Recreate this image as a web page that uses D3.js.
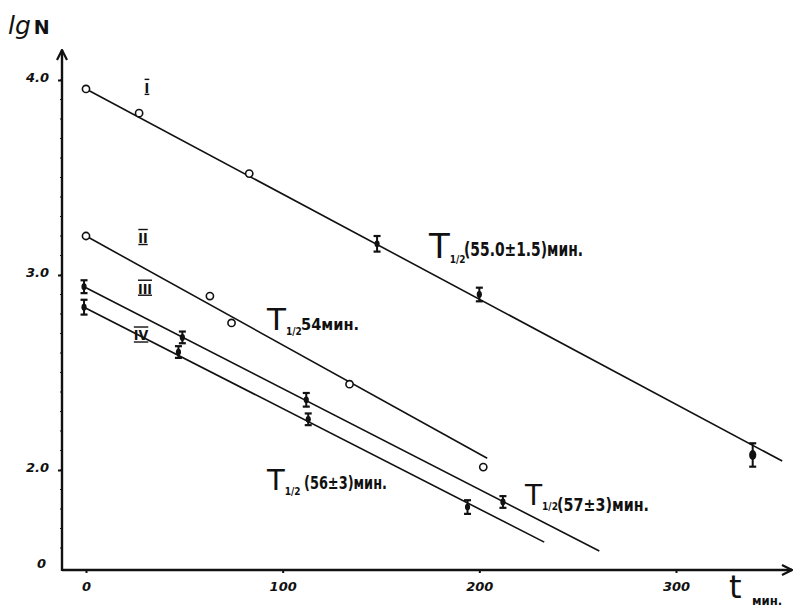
<!DOCTYPE html>
<html>
<head>
<meta charset="utf-8">
<script src="https://cdn.jsdelivr.net/npm/d3@7"></script>
<style>
  body { margin: 0; background: #fff; }
  text { fill: #111; }
</style>
</head>
<body>
<div id="chart"></div>
<script>
// Values (t in minutes, lgN)
const tI = [0, 27, 83, 148, 200, 339];
const lgI = [3.954, 3.83, 3.52, 3.16, 2.90, 2.077];
const errI = [0, 0, 0, 0.04, 0.035, 0.06];

const tII = [0, 63, 74, 134, 202];
const lgII = [3.20, 2.892, 2.754, 2.44, 2.015];
const errII = [0, 0, 0, 0, 0];

const tIII = [-1, 49, 112, 212];
const lgIII = [2.94, 2.68, 2.36, 1.836];
const errIII = [0.033, 0.03, 0.035, 0.03];

const tIV = [-1, 47, 113, 194];
const lgIV = [2.835, 2.605, 2.26, 1.81];
const errIV = [0.038, 0.03, 0.03, 0.035];

// fitted decay lines: [t, lgN] end points
const fitI = [[0, 3.954], [354, 2.046]];
const fitII = [[0, 3.20], [204, 2.06]];
const fitIII = [[-1, 2.94], [261, 1.585]];
const fitIV = [[-1, 2.835], [233, 1.63]];

const seriesNames = ["I", "II", "III", "IV"];
const halfLifeTexts = ["(55.0\u00b11.5)мин.", "54мин.", "(56\u00b13)мин.", "(57\u00b13)мин."];

const xTicks = [0, 100, 200, 300];
const yTicks = [2, 3, 4];

const width = 795, height = 609;

const svg = d3.select("#chart")
  .append("svg")
  .attr("width", width)
  .attr("height", height)
  .style("background", "#fff");

const x = d3.scaleLinear().domain([0, 300]).range([86, 676]);
const y = d3.scaleLinear().domain([2, 4]).range([470, 80]);

const axisY0 = 570, axisX0 = 62;

// axis lines with arrows
svg.append("defs").append("marker")
  .attr("id", "arrow")
  .attr("viewBox", "0 0 12 12")
  .attr("refX", 11).attr("refY", 6)
  .attr("markerWidth", 12).attr("markerHeight", 12)
  .attr("markerUnits", "userSpaceOnUse")
  .attr("orient", "auto")
  .append("path")
  .attr("d", "M1,1 L11,6 L1,11")
  .attr("fill", "none")
  .attr("stroke", "#111")
  .attr("stroke-width", 2.2);

svg.append("line")
  .attr("x1", axisX0).attr("y1", axisY0)
  .attr("x2", 792).attr("y2", axisY0)
  .attr("stroke", "#111").attr("stroke-width", 2.4)
  .attr("marker-end", "url(#arrow)");

svg.append("line")
  .attr("x1", axisX0).attr("y1", axisY0 + 1)
  .attr("x2", axisX0).attr("y2", 50)
  .attr("stroke", "#111").attr("stroke-width", 2.4)
  .attr("marker-end", "url(#arrow)");

// x axis ticks
const gx = svg.append("g")
  .attr("transform", `translate(0,${axisY0})`)
  .call(d3.axisBottom(x).tickValues(xTicks).tickSize(3).tickPadding(9));
gx.select(".domain").remove();
gx.selectAll("line").attr("stroke", "#111").attr("stroke-width", 2);
gx.selectAll("text")
  .style("font-family", "DejaVu Sans")
  .style("font-style", "italic")
  .style("font-weight", "bold")
  .style("font-size", "13px")
  .attr("fill", "#111");

// y axis ticks
const gy = svg.append("g")
  .attr("transform", `translate(${axisX0},0)`)
  .call(d3.axisLeft(y).tickValues(yTicks).tickFormat(d3.format(".1f")).tickSize(4).tickPadding(9));
gy.select(".domain").remove();
gy.selectAll("line").attr("stroke", "#111").attr("stroke-width", 2);
gy.selectAll("text")
  .attr("dy", "0.1em")
  .style("font-family", "DejaVu Sans")
  .style("font-style", "italic")
  .style("font-weight", "bold")
  .style("font-size", "13px")
  .attr("fill", "#111");

// minor ticks on y axis
svg.append("g").selectAll("line")
  .data(d3.range(1.6, 4.1, 0.1))
  .join("line")
  .attr("x1", axisX0 - 2).attr("x2", axisX0)
  .attr("y1", d => y(d)).attr("y2", d => y(d))
  .attr("stroke", "#111").attr("stroke-width", 1);

// origin "0" of lgN axis
svg.append("text")
  .attr("x", 46).attr("y", axisY0 - 2)
  .attr("text-anchor", "end")
  .style("font-family", "DejaVu Sans")
  .style("font-style", "italic")
  .style("font-weight", "bold")
  .style("font-size", "13px")
  .text("0");

// axis titles
const yTitle = svg.append("text")
  .attr("x", 8).attr("y", 34)
  .style("font-family", "DejaVu Sans")
  .style("font-size", "25px");
yTitle.append("tspan").style("font-style", "italic").text("lg");
yTitle.append("tspan").attr("dx", 3).style("font-size", "19px").style("font-weight", "bold").text("N");

svg.append("text")
  .attr("x", 729).attr("y", 598)
  .style("font-family", "DejaVu Sans")
  .style("font-size", "32px")
  .text("t");
svg.append("text")
  .attr("x", 752).attr("y", 605)
  .style("font-family", "DejaVu Sans Condensed")
  .style("font-weight", "bold")
  .style("font-size", "13px")
  .text("мин.");

// series
const series = [
  {name: "I", t: tI, lg: lgI, err: errI, fit: fitI},
  {name: "II", t: tII, lg: lgII, err: errII, fit: fitII},
  {name: "III", t: tIII, lg: lgIII, err: errIII, fit: fitIII},
  {name: "IV", t: tIV, lg: lgIV, err: errIV, fit: fitIV}
];

const line = d3.line().x(d => x(d[0])).y(d => y(d[1]));

series.forEach(s => {
  svg.append("path")
    .attr("d", line(s.fit))
    .attr("fill", "none")
    .attr("stroke", "#111")
    .attr("stroke-width", 1.6);

  const pts = s.t.map((t, i) => ({t: t, lg: s.lg[i], err: s.err[i]}));

  // open circles (no error bar)
  svg.append("g").selectAll("circle")
    .data(pts.filter(d => d.err === 0))
    .join("circle")
    .attr("cx", d => x(d.t))
    .attr("cy", d => y(d.lg))
    .attr("r", 3.6)
    .attr("fill", "#fff")
    .attr("stroke", "#111")
    .attr("stroke-width", 1.6);

  // error bar points
  const eb = svg.append("g").selectAll("g")
    .data(pts.filter(d => d.err > 0))
    .join("g");
  eb.append("line")
    .attr("x1", d => x(d.t)).attr("x2", d => x(d.t))
    .attr("y1", d => y(d.lg - d.err)).attr("y2", d => y(d.lg + d.err))
    .attr("stroke", "#111").attr("stroke-width", 2);
  eb.append("line")
    .attr("x1", d => x(d.t) - 3.5).attr("x2", d => x(d.t) + 3.5)
    .attr("y1", d => y(d.lg + d.err)).attr("y2", d => y(d.lg + d.err))
    .attr("stroke", "#111").attr("stroke-width", 2.2);
  eb.append("line")
    .attr("x1", d => x(d.t) - 3.5).attr("x2", d => x(d.t) + 3.5)
    .attr("y1", d => y(d.lg - d.err)).attr("y2", d => y(d.lg - d.err))
    .attr("stroke", "#111").attr("stroke-width", 2.2);
  eb.append("ellipse")
    .attr("cx", d => x(d.t)).attr("cy", d => y(d.lg))
    .attr("rx", d => d.err > 0.05 ? 3.6 : 2.6)
    .attr("ry", d => d.err > 0.05 ? 5 : 3.4)
    .attr("fill", "#111");
});

// roman numeral labels (layout positions in t / lgN)
const romanPos = [[31, 3.935], [29, 3.165], [30, 2.905], [28, 2.665]];
svg.append("g").selectAll("text")
  .data(seriesNames)
  .join("text")
  .attr("x", (d, i) => x(romanPos[i][0]))
  .attr("y", (d, i) => y(romanPos[i][1]))
  .attr("text-anchor", "middle")
  .style("font-family", "DejaVu Sans Condensed")
  .style("font-weight", "bold")
  .style("font-size", "14px")
  .style("text-decoration", "overline underline")
  .text(d => d);

// half-life labels: [x of T, baseline of T, T size, text start, text baseline, text width, text size]
const hlPos = [
  [429, 258, 34, 464, 256, 119, 19],
  [267, 330, 31, 301, 330, 58, 16],
  [267, 490, 29, 304, 489, 83, 17],
  [525, 505, 28, 557, 511, 92, 17]
];
halfLifeTexts.forEach((txt, i) => {
  const p = hlPos[i];
  const tSize = p[2];
  const tt = svg.append("text")
    .attr("x", p[0]).attr("y", p[1])
    .style("font-family", "DejaVu Sans");
  tt.append("tspan")
    .style("font-size", tSize + "px")
    .text("T");
  tt.append("tspan")
    .attr("dx", 0)
    .attr("dy", 5)
    .style("font-family", "DejaVu Sans Condensed")
    .style("font-weight", "bold")
    .style("font-size", "10px")
    .text("1/2");
  svg.append("text")
    .attr("x", p[3]).attr("y", p[4])
    .attr("textLength", p[5])
    .attr("lengthAdjust", "spacingAndGlyphs")
    .style("font-family", "DejaVu Sans Condensed")
    .style("font-weight", "bold")
    .style("font-size", p[6] + "px")
    .text(txt);
});
</script>
</body>
</html>
